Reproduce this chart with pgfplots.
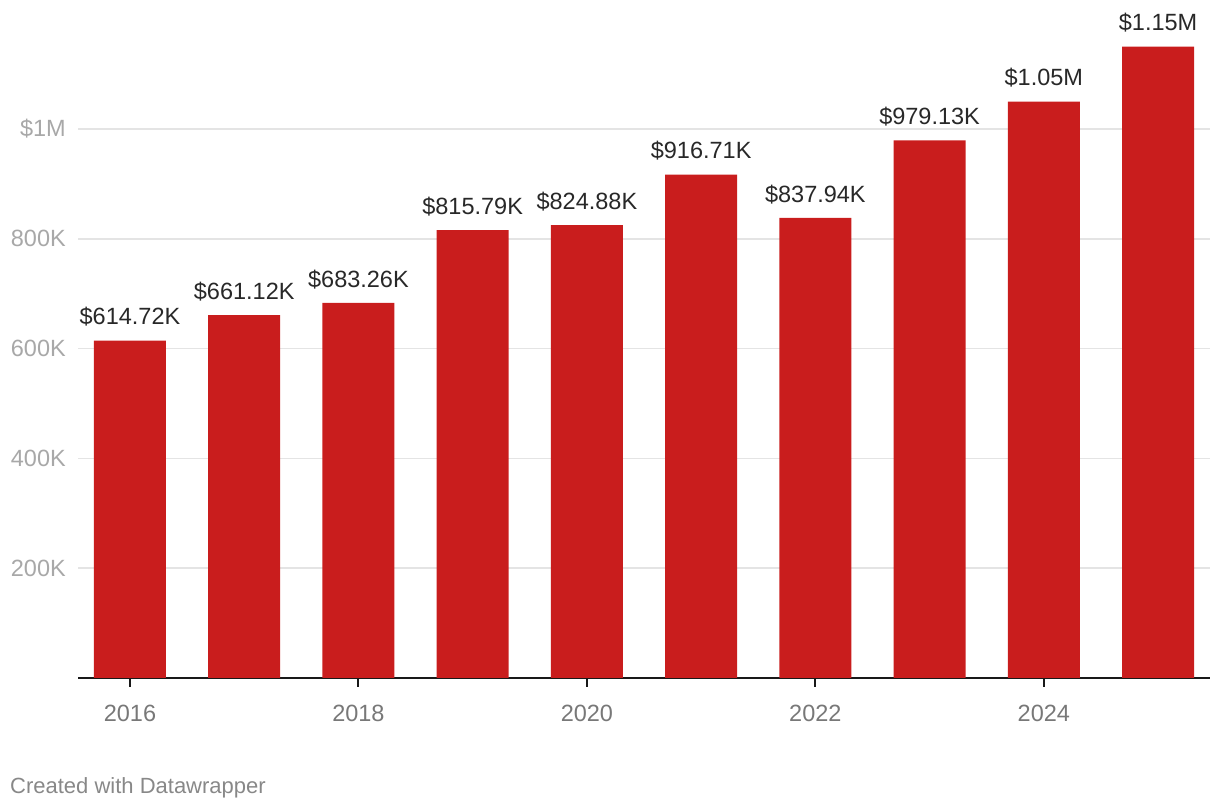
\documentclass[border=0pt]{standalone}
\usepackage{pgfplots}
\pgfplotsset{compat=1.18}
\usepackage{fontspec}
\setmainfont{Liberation Sans}
\definecolor{barred}{RGB}{201,29,29}
\definecolor{gridgray}{RGB}{228,228,228}
\definecolor{ylab}{RGB}{168,168,168}
\definecolor{xlab}{RGB}{120,120,120}
\definecolor{foot}{RGB}{136,136,136}
\definecolor{lab}{RGB}{40,40,40}
\begin{document}
\begin{tikzpicture}
\useasboundingbox (0,0) rectangle (1220pt,810pt);
\begin{axis}[
  at={(78pt,132pt)}, anchor=south west,
  scale only axis, width=1132pt, height=658.8pt,
  xmin=2015.545, xmax=2025.455,
  ymin=0, ymax=1200,
  clip=false,
  axis x line*=bottom, axis y line*=left,
  x axis line style={black!90, line width=2pt, -},
  y axis line style={draw=none},
  ytick={200,400,600,800,1000},
  yticklabels={200K,400K,600K,800K,\$1M},
  ymajorgrids, grid style={gridgray, line width=1.5pt},
  ytick style={draw=none},
  xtick={2016,2018,2020,2022,2024},
  xticklabels={2016,2018,2020,2022,2024},
  xtick style={black!90, line width=2pt},
  major tick length=9pt, tick align=outside,
  yticklabel style={anchor=east, inner sep=0pt, xshift=-3pt, font=\fontsize{23.5}{28}\selectfont, text=ylab},
  xticklabel style={anchor=north, inner sep=0pt, yshift=-18pt, font=\fontsize{23.5}{28}\selectfont, text=xlab},
]
\addplot[ybar, bar width=72pt, fill=barred, draw=none,
  nodes near coords, point meta=explicit symbolic,
  nodes near coords style={anchor=south, inner sep=0pt, yshift=14pt, font=\fontsize{23.5}{28}\selectfont, text=lab}]
coordinates {
(2016,614.72) [\$614.72K]
(2017,661.12) [\$661.12K]
(2018,683.26) [\$683.26K]
(2019,815.79) [\$815.79K]
(2020,824.88) [\$824.88K]
(2021,916.71) [\$916.71K]
(2022,837.94) [\$837.94K]
(2023,979.13) [\$979.13K]
(2024,1050) [\$1.05M]
(2025,1150) [\$1.15M]
};
\end{axis}
\node[anchor=base west, inner sep=0pt, text=foot, font=\fontsize{22}{26}\selectfont] at (10pt,16pt) {Created with Datawrapper};
\end{tikzpicture}
\end{document}
